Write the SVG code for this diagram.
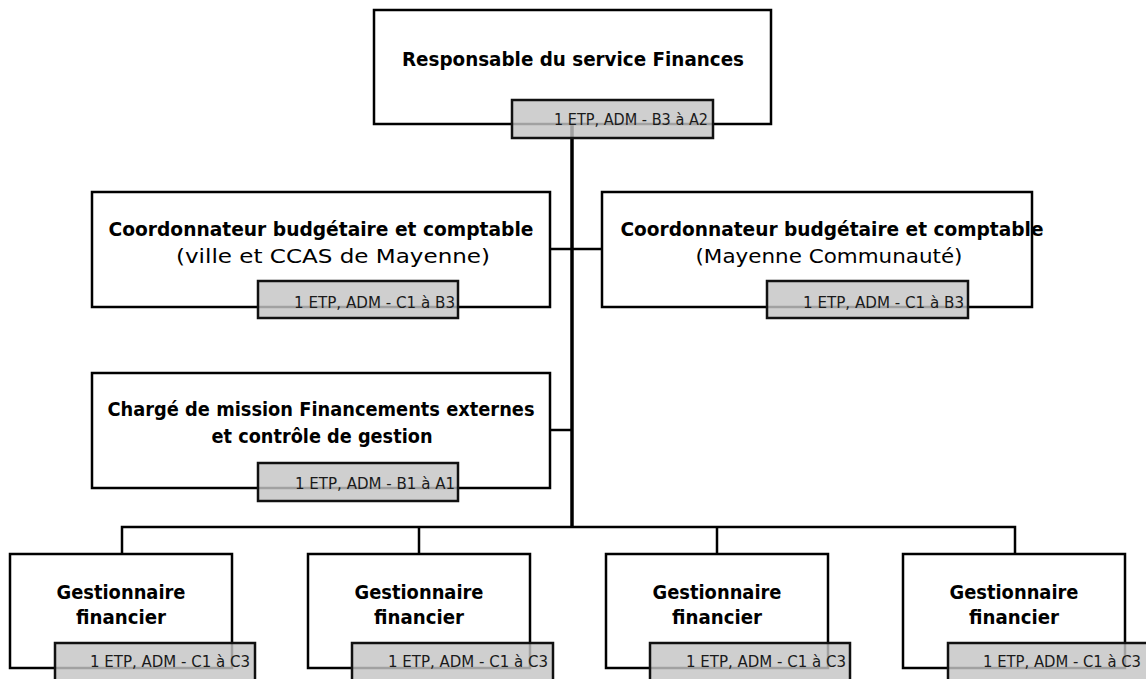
<svg xmlns="http://www.w3.org/2000/svg" width="1146" height="679" viewBox="0 0 1146 679">
<style>
.box{fill:#fff;stroke:#000;stroke-width:2.5}
.tag{fill:#c4c4c4;fill-opacity:0.82;stroke:#111;stroke-width:2.5}
.t{font-family:"DejaVu Sans","Liberation Sans",sans-serif;font-weight:bold;font-size:19px;fill:#000;text-anchor:middle}
.r{font-weight:normal}
.lbl{font-family:"DejaVu Sans","Liberation Sans",sans-serif;font-size:16px;fill:#1a1a1a;text-anchor:end}
.conn{stroke:#000;fill:none;stroke-width:2.5}
.trunk{stroke:#000;fill:none;stroke-width:3.5}
</style>
<rect width="1146" height="679" fill="#fff"/>
<g id="connectors">
<line class="trunk" x1="572" y1="124" x2="572" y2="528"/>
<line class="conn" x1="550" y1="249" x2="602" y2="249"/>
<line class="conn" x1="550" y1="430" x2="572" y2="430"/>
<polyline class="conn" points="122,554 122,527 1015,527 1015,554"/>
<line class="conn" x1="419" y1="527" x2="419" y2="554"/>
<line class="conn" x1="717" y1="527" x2="717" y2="554"/>
</g>
<g id="n-responsable">
<rect class="box" x="374" y="10" width="397" height="114"/>
<text class="t" x="573" y="66" textLength="342" lengthAdjust="spacingAndGlyphs">Responsable du service Finances</text>
<rect class="tag" x="512" y="100" width="201" height="38"/>
<text class="lbl" x="708" y="125" textLength="154" lengthAdjust="spacingAndGlyphs">1 ETP, ADM - B3 à A2</text>
</g>
<g id="n-coord-ville">
<rect class="box" x="92" y="192" width="458" height="115"/>
<text class="t" x="321" y="236" textLength="425" lengthAdjust="spacingAndGlyphs">Coordonnateur budgétaire et comptable</text>
<text class="t r" x="333" y="263" textLength="314" lengthAdjust="spacingAndGlyphs">(ville et CCAS de Mayenne)</text>
<rect class="tag" x="258" y="281" width="200" height="37"/>
<text class="lbl" x="455" y="308" textLength="161" lengthAdjust="spacingAndGlyphs">1 ETP, ADM - C1 à B3</text>
</g>
<g id="n-coord-communaute">
<rect class="box" x="602" y="192" width="430" height="115"/>
<text class="t" x="832" y="236" textLength="423" lengthAdjust="spacingAndGlyphs">Coordonnateur budgétaire et comptable</text>
<text class="t r" x="829" y="263" textLength="267" lengthAdjust="spacingAndGlyphs">(Mayenne Communauté)</text>
<rect class="tag" x="767" y="281" width="201" height="37"/>
<text class="lbl" x="964" y="308" textLength="161" lengthAdjust="spacingAndGlyphs">1 ETP, ADM - C1 à B3</text>
</g>
<g id="n-charge-mission">
<rect class="box" x="92" y="373" width="458" height="115"/>
<text class="t" x="321" y="416" textLength="427" lengthAdjust="spacingAndGlyphs">Chargé de mission Financements externes</text>
<text class="t" x="322" y="443" textLength="221" lengthAdjust="spacingAndGlyphs">et contrôle de gestion</text>
<rect class="tag" x="258" y="463" width="200" height="38"/>
<text class="lbl" x="455" y="489" textLength="160" lengthAdjust="spacingAndGlyphs">1 ETP, ADM - B1 à A1</text>
</g>
<g id="n-gestionnaire-1">
<rect class="box" x="10" y="554" width="222" height="114"/>
<text class="t" x="121" y="599" textLength="129" lengthAdjust="spacingAndGlyphs">Gestionnaire</text>
<text class="t" x="121" y="624" textLength="90" lengthAdjust="spacingAndGlyphs">financier</text>
<rect class="tag" x="55" y="643" width="200" height="40"/>
<text class="lbl" x="250" y="667" textLength="160" lengthAdjust="spacingAndGlyphs">1 ETP, ADM - C1 à C3</text>
</g>
<g id="n-gestionnaire-2">
<rect class="box" x="308" y="554" width="222" height="114"/>
<text class="t" x="419" y="599" textLength="129" lengthAdjust="spacingAndGlyphs">Gestionnaire</text>
<text class="t" x="419" y="624" textLength="90" lengthAdjust="spacingAndGlyphs">financier</text>
<rect class="tag" x="352" y="643" width="201" height="40"/>
<text class="lbl" x="548" y="667" textLength="160" lengthAdjust="spacingAndGlyphs">1 ETP, ADM - C1 à C3</text>
</g>
<g id="n-gestionnaire-3">
<rect class="box" x="606" y="554" width="222" height="114"/>
<text class="t" x="717" y="599" textLength="129" lengthAdjust="spacingAndGlyphs">Gestionnaire</text>
<text class="t" x="717" y="624" textLength="90" lengthAdjust="spacingAndGlyphs">financier</text>
<rect class="tag" x="650" y="643" width="200" height="40"/>
<text class="lbl" x="846" y="667" textLength="160" lengthAdjust="spacingAndGlyphs">1 ETP, ADM - C1 à C3</text>
</g>
<g id="n-gestionnaire-4">
<rect class="box" x="903" y="554" width="222" height="114"/>
<text class="t" x="1014" y="599" textLength="129" lengthAdjust="spacingAndGlyphs">Gestionnaire</text>
<text class="t" x="1014" y="624" textLength="90" lengthAdjust="spacingAndGlyphs">financier</text>
<rect class="tag" x="948" y="643" width="202" height="40"/>
<text class="lbl" x="1141" y="667" textLength="158" lengthAdjust="spacingAndGlyphs">1 ETP, ADM - C1 à C3</text>
</g>
</svg>
